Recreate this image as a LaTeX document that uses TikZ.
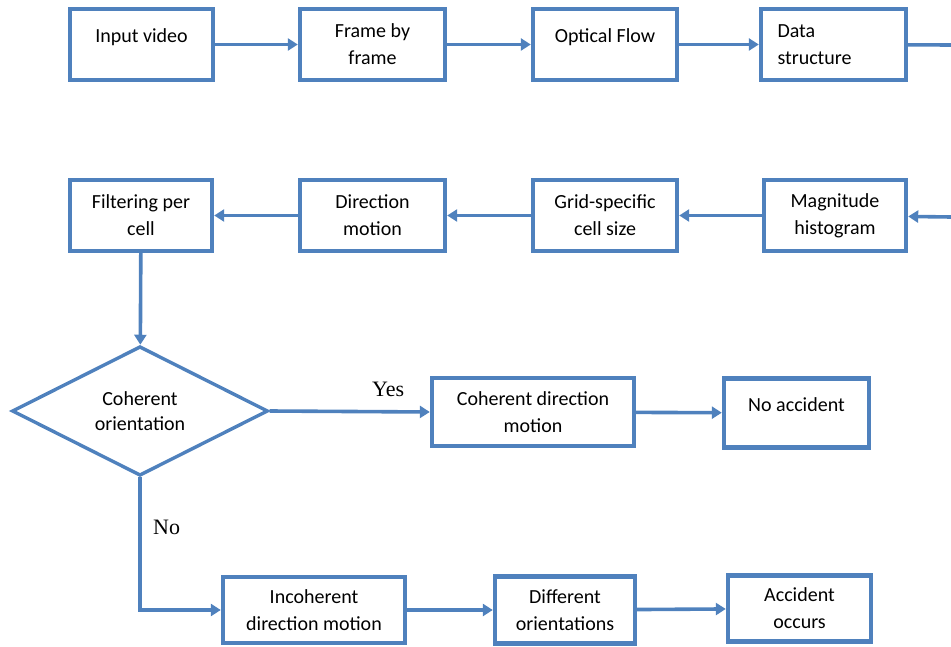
\documentclass[tikz,border=0pt]{standalone}
\usepackage{fontspec}
\setmainfont{Carlito}
\newfontfamily\answerfont{Liberation Serif}
\usetikzlibrary{arrows.meta}
\usetikzlibrary{shapes.geometric}

\definecolor{flowblue}{RGB}{79,129,189}

\tikzset{
    box/.style={draw=flowblue, line width=4.4pt, align=center, inner sep=0pt,
        minimum height=71pt, font=\fontsize{20}{27}\selectfont},
    decision/.style={diamond, draw=flowblue, line width=3.4pt, align=center,
        inner sep=0pt, minimum width=256pt, minimum height=122pt,
        font=\fontsize{20}{25}\selectfont},
    flow/.style={draw=flowblue, line width=3.6pt},
    flowarrow/.style={flow, -{Triangle[length=10pt,width=12pt]}},
    answer/.style={font=\answerfont\fontsize{22}{24}\selectfont}
}

\begin{document}
\begin{tikzpicture}[x=1pt, y=-1pt]
    \useasboundingbox (0,0) rectangle (951,647);

    % first row, left to right
    \node[box, minimum width=143pt] (input) at (141.5,44.5) {Input video\\[-10pt] \mbox{}};
    \node[box, minimum width=145pt] (frame) at (372.5,44.5) {Frame by\\frame};
    \node[box, minimum width=144pt] (optical) at (605,44.5) {Optical Flow\\[-10pt] \mbox{}};
    \node[box, minimum width=145pt, align=left, text width=112pt] (datastruct) at (833.5,44.5) {Data\\structure};
    \coordinate (rowout) at (951,45);

    % second row, right to left
    \coordinate (rowin) at (951,217);
    \node[box, minimum width=142pt] (magnitude) at (835,215.5) {Magnitude\\histogram};
    \node[box, minimum width=144pt] (grid) at (605,215.5) {Grid-specific\\cell size};
    \node[box, minimum width=145pt] (direction) at (372.5,215.5) {Direction\\motion};
    \node[box, minimum width=142pt] (filter) at (141,215.5) {Filtering per\\cell};

    % decision and the two branches
    \node[decision] (coherent) at (140,411) {Coherent\\orientation};
    \node[box, minimum width=202pt, minimum height=68pt] (cohmotion) at (533,412) {Coherent direction\\motion};
    \node[box, minimum width=145pt, minimum height=69pt] (noaccident) at (796.5,413) {No accident\\[-10pt] \mbox{}};

    \node[box, minimum width=182pt, minimum height=66pt] (incohmotion) at (314,610) {Incoherent\\direction motion};
    \node[box, minimum width=140pt, minimum height=67pt] (orientations) at (565,610) {Different\\orientations};
    \node[box, minimum width=143pt, minimum height=66pt] (accident) at (799.5,608.5) {Accident\\occurs};

    \draw[flowarrow] (input) -- (frame);
    \draw[flowarrow] (frame) -- (optical);
    \draw[flowarrow] (optical) -- (datastruct);
    \draw[flow] (datastruct) -- (rowout);

    \draw[flowarrow] (rowin) -- (magnitude);
    \draw[flowarrow] (magnitude) -- (grid);
    \draw[flowarrow] (grid) -- (direction);
    \draw[flowarrow] (direction) -- (filter);

    \draw[flowarrow] (filter) -- (coherent);
    \draw[flowarrow] (coherent.east) -- node[answer, above, pos=0.74, yshift=10pt] (yes) {Yes} (cohmotion.west);
    \draw[flowarrow] (cohmotion) -- (noaccident);

    \draw[flowarrow] (coherent.south) |- node[answer, right, pos=0.19, xshift=8pt] (no) {No} (incohmotion.west);
    \draw[flowarrow] (incohmotion) -- (orientations);
    \draw[flowarrow] (orientations) -- (accident);
\end{tikzpicture}
\end{document}
